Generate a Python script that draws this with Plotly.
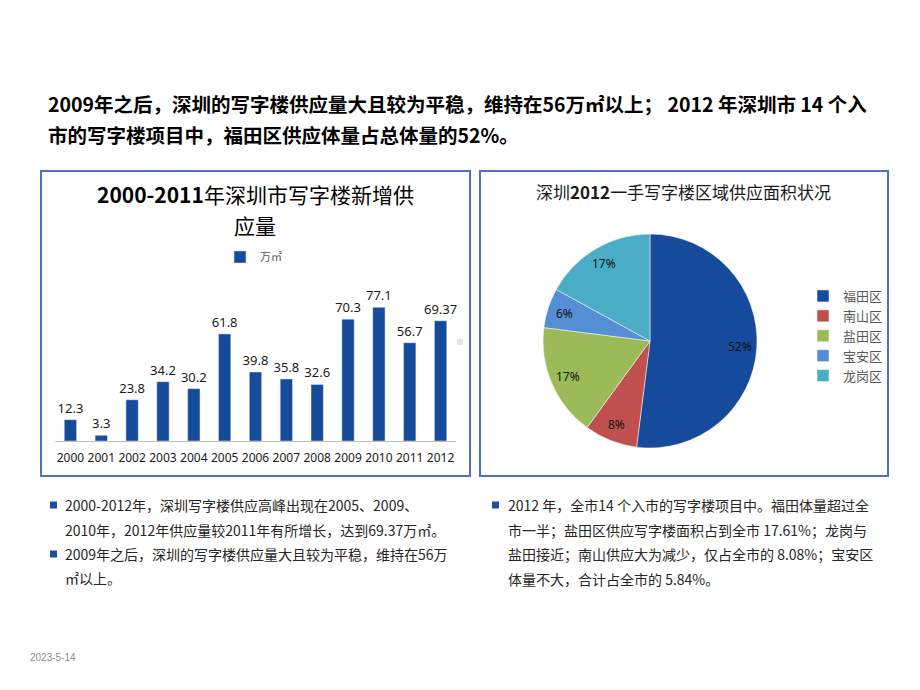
import math
import plotly.graph_objects as go

W, H = 920, 690

years = ["2000", "2001", "2002", "2003", "2004", "2005", "2006", "2007",
         "2008", "2009", "2010", "2011", "2012"]
supply = [12.3, 3.3, 23.8, 34.2, 30.2, 61.8, 39.8, 35.8, 32.6, 70.3, 77.1, 56.7, 69.37]
supply_text = ["12.3", "3.3", "23.8", "34.2", "30.2", "61.8", "39.8", "35.8",
               "32.6", "70.3", "77.1", "56.7", "69.37"]

districts = ["福田区", "南山区", "盐田区", "宝安区", "龙岗区"]
shares = [52, 8, 17, 6, 17]
pie_colors = ["#164A9B", "#C0504D", "#9BBB59", "#558ED5", "#4BACC6"]

headline = ["2009年之后，深圳的写字楼供应量大且较为平稳，维持在56万㎡以上； 2012 年深圳市 14 个入",
            "市的写字楼项目中，福田区供应体量占总体量的52%。"]
left_notes = ["2000-2012年，深圳写字楼供应高峰出现在2005、2009、",
              "2010年，2012年供应量较2011年有所增长，达到69.37万㎡。",
              "2009年之后，深圳的写字楼供应量大且较为平稳，维持在56万",
              "㎡以上。"]
right_notes = ["2012 年，全市14 个入市的写字楼项目中。福田体量超过全",
               "市一半；盐田区供应写字楼面积占到全市 17.61%；龙岗与",
               "盐田接近；南山供应大为减少，仅占全市的 8.08%；宝安区",
               "体量不大，合计占全市的 5.84%。"]

CJK = "Noto Sans CJK SC"


def px(x):
    return x / W


def py(y):
    return 1 - y / H


fig = go.Figure()

fig.add_trace(go.Bar(
    x=years, y=supply, name="万㎡", marker_color="#164A9B",
    text=supply_text, textposition="outside", cliponaxis=False,
    constraintext="none",
    textfont=dict(family="Noto Sans", size=13, color="#1a1a1a"),
    showlegend=True, legend="legend",
))

# pie geometry (pixels) for the domain and the label ring
PCX, PCY, PR = 650, 341, 107
fig.add_trace(go.Pie(
    labels=districts, values=shares, sort=False, direction="clockwise",
    rotation=0, marker=dict(colors=pie_colors, line=dict(color="white", width=0.5)),
    textinfo="none",
    domain=dict(x=[px(PCX - PR), px(PCX + PR)], y=[py(PCY + PR), py(PCY - PR)]),
    legend="legend2", showlegend=True,
))

fig.update_layout(
    width=W, height=H, margin=dict(l=0, r=0, t=0, b=0),
    paper_bgcolor="white", plot_bgcolor="white",
    bargap=0.6,
    font=dict(family=CJK),
    xaxis=dict(domain=[px(55), px(456)], showgrid=False, showline=True,
               linecolor="#BFBFBF", linewidth=1, ticks="",
               tickfont=dict(family="Noto Sans", size=12, color="#1a1a1a"),
               ticklabelstandoff=6, fixedrange=True),
    yaxis=dict(domain=[py(441), py(285)], range=[0, 90], visible=False,
               showgrid=False, fixedrange=True),
    legend=dict(orientation="h", x=px(220), y=py(257), xanchor="left", yanchor="middle",
                font=dict(family=CJK, size=11, color="#595959"),
                itemwidth=30, bgcolor="rgba(0,0,0,0)"),
    legend2=dict(orientation="v", x=px(803), y=py(336), xanchor="left", yanchor="middle",
                 font=dict(family=CJK, size=13, color="#595959"),
                 itemwidth=30, tracegroupgap=0, bgcolor="rgba(0,0,0,0)"),
)

shapes = []
shapes.append(dict(type="rect", xref="paper", yref="paper", x0=px(41), x1=px(470),
                   y0=py(476), y1=py(171), line=dict(color="#4A72BE", width=2)))
shapes.append(dict(type="rect", xref="paper", yref="paper", x0=px(480), x1=px(888),
                   y0=py(476), y1=py(171), line=dict(color="#4A72BE", width=2)))
shapes.append(dict(type="rect", xref="paper", yref="paper", x0=px(457), x1=px(463),
                   y0=py(345), y1=py(339), line=dict(width=0), fillcolor="#E3E3E3"))

annotations = []
for i, t in enumerate(headline):
    annotations.append(dict(text="<b>" + t + "</b>", xref="paper", yref="paper",
                            x=px(46), y=py(104 + 30 * i), xanchor="left", yanchor="middle",
                            showarrow=False, font=dict(family=CJK, size=19.5, color="#000000")))
title_font = dict(family=CJK, size=21, color="#000000")
annotations.append(dict(text="<b>2000-2011</b>年深圳市写字楼新增供", xref="paper", yref="paper",
                        x=px(255), y=py(194), xanchor="center", yanchor="middle",
                        showarrow=False, font=title_font))
annotations.append(dict(text="应量", xref="paper", yref="paper",
                        x=px(255), y=py(225), xanchor="center", yanchor="middle",
                        showarrow=False, font=title_font))
annotations.append(dict(text="深圳<b>2012</b>一手写字楼区域供应面积状况", xref="paper", yref="paper",
                        x=px(683), y=py(192), xanchor="center", yanchor="middle",
                        showarrow=False, font=dict(family=CJK, size=17, color="#1a1a1a")))

# pie percentage labels on a ring at 0.84 of the radius, at each slice's mid-angle
total = sum(shares)
cum = 0
for v in shares:
    mid = (cum + v / 2) / total * 2 * math.pi
    cum += v
    lx = PCX + 0.84 * PR * math.sin(mid)
    ly = PCY - 0.84 * PR * math.cos(mid)
    annotations.append(dict(text=f"{round(v / total * 100)}%", xref="paper", yref="paper",
                            x=px(lx), y=py(ly), xanchor="center", yanchor="middle",
                            showarrow=False,
                            font=dict(family="Noto Sans", size=12, color="#111111")))

note_font = dict(family=CJK, size=14, color="#262626")
left_y = [505, 530, 554, 578]
right_y = [505, 530, 554, 579]
for t, y in zip(left_notes, left_y):
    annotations.append(dict(text=t, xref="paper", yref="paper", x=px(63), y=py(y),
                            xanchor="left", yanchor="middle", showarrow=False, font=note_font))
for t, y in zip(right_notes, right_y):
    annotations.append(dict(text=t, xref="paper", yref="paper", x=px(506), y=py(y),
                            xanchor="left", yanchor="middle", showarrow=False, font=note_font))
for bx, by in [(50, 505), (50, 554), (492, 505)]:
    shapes.append(dict(type="rect", xref="paper", yref="paper", x0=px(bx), x1=px(bx + 7),
                       y0=py(by + 3.5), y1=py(by - 3.5), line=dict(width=0),
                       fillcolor="#1F4E9A"))

annotations.append(dict(text="2023-5-14", xref="paper", yref="paper", x=px(28), y=py(657),
                        xanchor="left", yanchor="middle", showarrow=False,
                        font=dict(family="Liberation Sans", size=10, color="#8C8C8C")))

fig.update_layout(shapes=shapes, annotations=annotations)

fig.write_html("out.html", config={"displayModeBar": False})
